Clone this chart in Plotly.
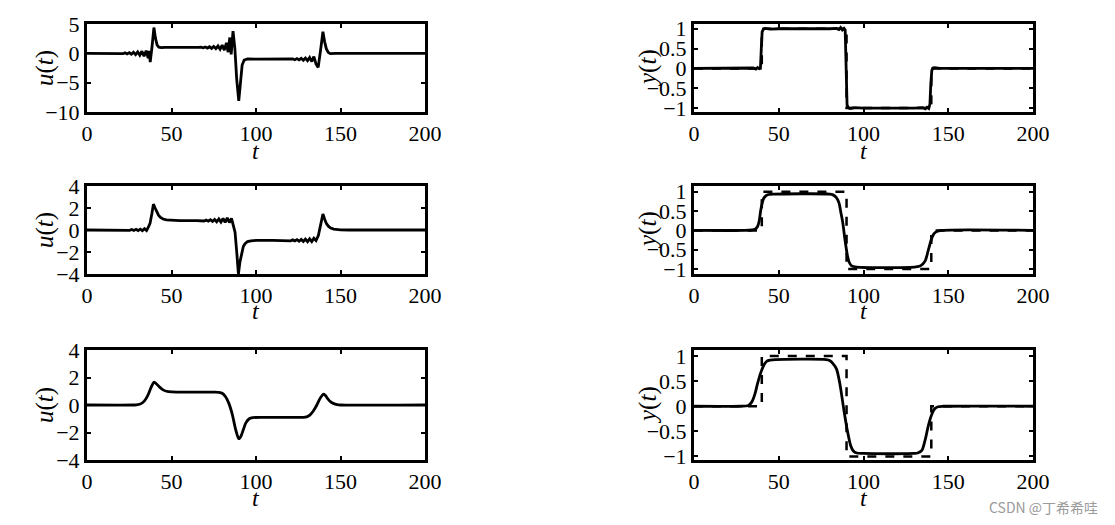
import plotly.graph_objects as go

# left column: control input u(t), three cases
u1_t = [0, 18, 20, 21.25, 22.5, 23.75, 25, 26.25, 27.5, 28.75, 30, 31.25, 32.5, 33.75, 35, 36.2, 36.8, 37.4,
        38.5, 39.6, 40.5, 41.5, 42.5, 44, 46, 50, 60, 66, 67.5, 68.75, 70, 71.25, 72.5, 73.75, 75, 76.25,
        77.5, 78.75, 80, 81.25, 82.5, 83.5, 84.5, 85.3, 86.4, 87.5, 88.6, 89.8, 90.8, 91.8, 93, 95, 100,
        110, 118, 119.25, 120.5, 121.75, 123, 124.25, 125.5, 126.75, 128, 129.25, 130.5, 131.75, 133,
        134.25, 135.5, 136.8, 138.2, 139.6, 140.6, 141.6, 142.8, 144, 147, 160, 200]
u1 = [0, 0, 0.05, -0.06, 0.08, -0.1, 0.12, -0.15, 0.18, -0.22, 0.25, -0.32, 0.35, -0.5, 0.45, -0.8, 0.4, -1.5,
      1.2, 4.4, 2.6, 1.4, 1.05, 0.97, 1.02, 0.98, 1.0, 1.0, 1.05, 0.95, 1.08, 0.9, 1.12, 0.85, 1.18, 0.8,
      1.25, 0.7, 1.4, 0.55, 1.8, 0.2, 2.7, -0.2, 3.8, 0.8, -4.5, -8.1, -4.5, -2.0, -1.15, -0.95, -1.0,
      -1.0, -1.0, -0.95, -1.05, -0.93, -1.08, -0.9, -1.12, -0.85, -1.18, -0.8, -1.25, -0.7, -1.4,
      -0.55, -1.8, -2.4, 0.5, 3.7, 2.0, 0.8, 0.15, -0.05, 0.0, 0, 0]

u2_t = [0, 22, 24, 25.25, 26.5, 27.75, 29, 30.25, 31.5, 32.75, 34, 35.25, 36.3, 37.3, 38.4, 39.3, 40.3,
        41.3, 42.3, 43.5, 45, 47, 50, 55, 65, 68, 69.25, 70.5, 71.75, 73, 74.25, 75.5, 76.75, 78, 79.25,
        80.5, 81.75, 83, 84.25, 85.5, 86.5, 87.6, 88.6, 89.6, 90.5, 91.5, 92.5, 93.5, 95, 97, 100, 110,
        118, 119.25, 120.5, 121.75, 123, 124.25, 125.5, 126.75, 128, 129.25, 130.5, 131.75, 133, 134.25,
        135.5, 136.9, 138.2, 139.6, 140.6, 141.6, 142.8, 144.2, 146, 148, 150, 155, 200]
u2 = [0, 0, 0.03, -0.03, 0.05, -0.04, 0.06, -0.05, 0.08, -0.06, 0.12, -0.05, 0.25, 0.6, 1.5, 2.35, 2.0,
      1.6, 1.35, 1.15, 1.0, 0.92, 0.88, 0.85, 0.85, 0.87, 0.82, 0.9, 0.8, 0.93, 0.78, 0.96, 0.75, 1.0, 0.72,
      1.05, 0.7, 1.1, 0.68, 1.05, 0.3, -0.2, -2.0, -4.0, -2.9, -2.0, -1.5, -1.25, -1.05, -0.98, -0.95, -0.95,
      -0.95, -0.92, -0.98, -0.9, -1.0, -0.88, -1.02, -0.86, -1.04, -0.83, -1.06, -0.8, -1.05, -0.75,
      -0.95, -0.5, 0.5, 1.45, 1.0, 0.6, 0.35, 0.18, 0.08, 0.03, 0.01, 0, 0]

u3_t = [0, 28, 30, 32, 34, 36, 38, 39.7, 41, 43, 45, 47, 50, 60, 70, 76, 78, 80, 82, 84, 86, 88, 89.8, 91,
        92.5, 94, 96, 98, 105, 120, 128, 130, 132, 134, 136, 138, 139.8, 141, 142.5, 144, 146, 148, 150, 200]
u3 = [0, 0, 0.02, 0.1, 0.3, 0.7, 1.3, 1.67, 1.55, 1.3, 1.1, 1.0, 0.95, 0.94, 0.94, 0.94, 0.92, 0.85, 0.6,
      0.1, -0.7, -1.8, -2.45, -2.3, -1.8, -1.3, -1.0, -0.92, -0.9, -0.9, -0.9, -0.86, -0.72, -0.42, 0.0,
      0.5, 0.78, 0.7, 0.45, 0.25, 0.1, 0.03, 0, 0]

# right column: output y(t) against the reference square wave
ref_t = [0, 40, 40, 90, 90, 140, 140, 200]
ref = [0, 0, 1, 1, -1, -1, 0, 0]

y1_t = [0, 30, 35, 36.5, 37.5, 38.5, 39.2, 39.7, 40.2, 41, 42, 45, 50, 80, 84, 85.5, 86.5, 87.5, 88.5, 89.2,
        89.7, 90.3, 91, 92, 95, 100, 130, 135, 136.5, 137.5, 138.5, 139.2, 139.7, 140.3, 141, 142, 145, 200]
y1 = [0, 0, 0.01, -0.02, 0.02, -0.01, 0.0, 0.5, 0.92, 0.99, 1.01, 0.99, 1.0, 1.0, 1.01, 0.98, 1.03, 0.97,
      1.01, 0.97, 0.0, -0.92, -0.99, -1.01, -0.99, -1.0, -1.0, -0.99, -1.02, -0.98, -1.01, -0.9, -0.4,
      -0.05, 0.01, 0.02, 0.0, 0]

y2_t = [0, 30, 34, 36, 37.5, 38.5, 39.3, 40.2, 41, 42.5, 44, 47, 80, 82, 84, 85.5, 86.5, 87.7, 89.1, 90.5,
        91.5, 93, 96, 130, 133, 135, 136.5, 138.3, 140.3, 141.5, 143.2, 146, 200]
y2 = [0, 0, 0.01, 0.03, 0.1, 0.25, 0.5, 0.7, 0.82, 0.9, 0.93, 0.94, 0.94, 0.92, 0.85, 0.72, 0.5, 0.22,
      -0.25, -0.65, -0.82, -0.92, -0.95, -0.95, -0.93, -0.87, -0.78, -0.5, -0.2, -0.09, -0.03, 0, 0]

y3_t = [0, 28, 31.6, 33, 34.5, 36, 37.4, 39.4, 41.4, 43, 45, 48, 78, 80, 82, 84.1, 86.1, 88.5, 90.5, 92.4,
        94, 96, 100, 130, 132, 134.4, 136.3, 138.3, 140.3, 142, 144, 147, 200]
y3 = [0, 0, 0.01, 0.04, 0.11, 0.25, 0.44, 0.67, 0.83, 0.9, 0.92, 0.93, 0.93, 0.91, 0.85, 0.74, 0.44,
      -0.09, -0.49, -0.78, -0.89, -0.93, -0.94, -0.94, -0.93, -0.88, -0.68, -0.38, -0.16, -0.05, -0.01, 0, 0]

x_ticks = [0, 50, 100, 150, 200]
u_ticks = [[-10, -5, 0, 5], [-4, -2, 0, 2, 4], [-4, -2, 0, 2, 4]]
u_ranges = [[-10, 5], [-4, 4], [-4, 4]]
y_ticks = [-1, -0.5, 0, 0.5, 1]
y_ranges = [[-1.1, 1.12], [-1.13, 1.15], [-1.07, 1.12]]

W, H = 1115, 525
OFF = 8  # the page body adds an 8px margin, so place everything 8px up/left
SERIF = "Liberation Serif"

# pixel boxes of the panels (top, bottom) per row, (left, right) per column, in page pixels
rows_px = [(24, 112), (186, 274), (350, 460)]
cols_px = [(87, 425), (694, 1033)]


def px_x(p):
    return (p - OFF) / W


def px_y(p):
    return 1 - (p - OFF) / H


fig = go.Figure()
annotations = []
layout_axes = {}

panels = [
    (0, 0, [(u1_t, u1, "linear")]),
    (1, 0, [(u2_t, u2, "linear")]),
    (2, 0, [(u3_t, u3, "spline")]),
    (0, 1, [(y1_t, y1, "linear")]),
    (1, 1, [(y2_t, y2, "spline")]),
    (2, 1, [(y3_t, y3, "spline")]),
]

for i, (r, c, series) in enumerate(panels, start=1):
    xa = "x" if i == 1 else f"x{i}"
    ya = "y" if i == 1 else f"y{i}"
    top, bot = rows_px[r]
    left, right = cols_px[c]

    if c == 1:
        fig.add_trace(go.Scatter(
            x=ref_t, y=ref, mode="lines", xaxis=xa, yaxis=ya,
            line=dict(color="black", width=2.5, dash="dash"), showlegend=False,
        ))
    for tx, vals, shape in series:
        fig.add_trace(go.Scatter(
            x=tx, y=vals, mode="lines", xaxis=xa, yaxis=ya,
            line=dict(color="black", width=2.8, shape=shape, smoothing=0.8 if shape == "spline" else None),
            showlegend=False,
        ))

    axis_common = dict(
        showline=True, linecolor="black", linewidth=3, mirror="ticks",
        ticks="inside", ticklen=4, tickwidth=1.5, tickcolor="black",
        showgrid=False, zeroline=False, automargin=False,
        tickfont=dict(family=SERIF, size=22, color="black"),
    )
    layout_axes[f"xaxis{'' if i == 1 else i}"] = dict(
        axis_common, domain=[px_x(left), px_x(right)], range=[0, 200],
        tickvals=x_ticks, anchor=ya,
    )
    if c == 0:
        yr, yt = u_ranges[r], u_ticks[r]
        ytxt = [str(v).replace("-", "\u2212") for v in yt]
    else:
        yr, yt = y_ranges[r], y_ticks
        ytxt = [("%g" % v).replace("-", "\u2212") for v in yt]
    layout_axes[f"yaxis{'' if i == 1 else i}"] = dict(
        axis_common, domain=[px_y(bot), px_y(top)], range=yr,
        tickvals=yt, ticktext=ytxt, anchor=xa,
    )

    # axis labels
    t_y = [151, 311, 498][r]
    annotations.append(dict(
        text="<i>t</i>", x=px_x((left + right) / 2), y=px_y(t_y), xref="paper", yref="paper",
        showarrow=False, font=dict(family=SERIF, size=24, color="black"),
        xanchor="center", yanchor="middle",
    ))
    lab_x = 45 if c == 0 else 648
    annotations.append(dict(
        text="<i>u</i>(<i>t</i>)" if c == 0 else "<i>y</i>(<i>t</i>)",
        x=px_x(lab_x), y=px_y((top + bot) / 2), xref="paper", yref="paper",
        showarrow=False, textangle=-90, font=dict(family=SERIF, size=25, color="black"),
        xanchor="center", yanchor="middle",
    ))

annotations.append(dict(
    text="CSDN @丁希希哇", x=px_x(1100), y=px_y(507), xref="paper", yref="paper",
    showarrow=False, xanchor="right", yanchor="middle",
    font=dict(family="Noto Sans CJK SC", size=14, color="#9a9a9a"),
))

fig.update_layout(
    width=W, height=H, margin=dict(l=0, r=0, t=0, b=0),
    paper_bgcolor="white", plot_bgcolor="white",
    annotations=annotations, **layout_axes,
)

fig.write_html("out.html")
